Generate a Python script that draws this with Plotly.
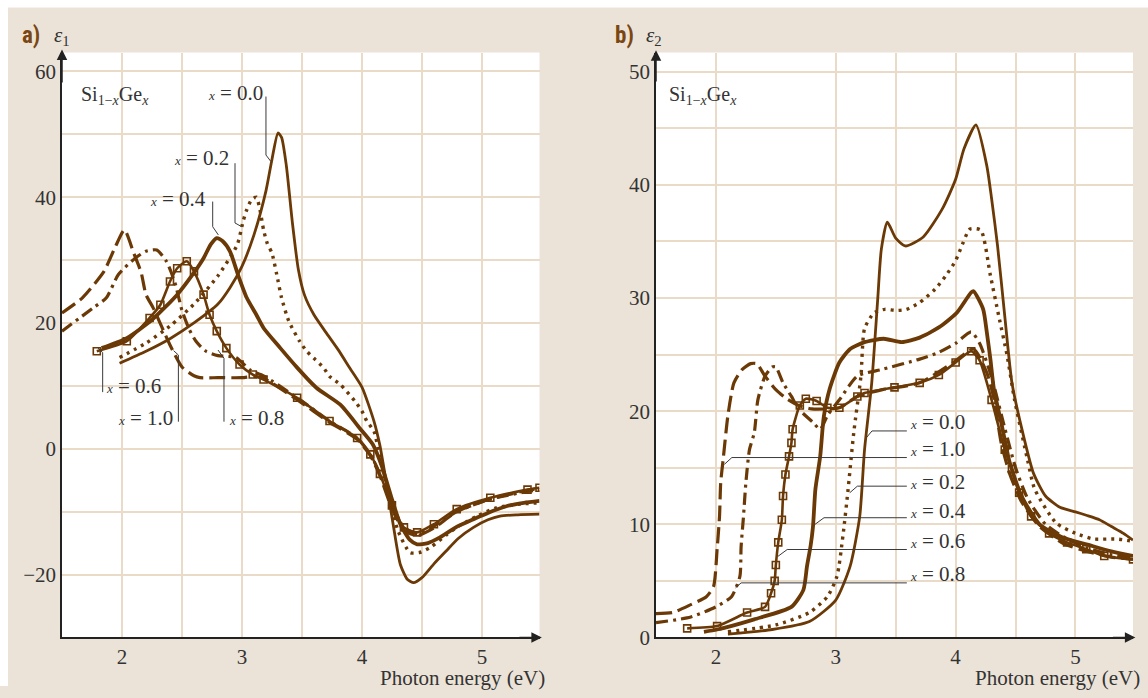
import plotly.graph_objects as go

W, H = 1148, 698
BROWN = "#6B3906"
LABEL_BROWN = "#7A4612"
GRID = "#EADBC8"
BG = "#ECE3D8"
AXIS = "#222222"
TXT = "#333333"
SERIF = "Liberation Serif, Times New Roman, serif"

# ---------------- Panel a: epsilon_1 ----------------
a_E_x00 = [1.98, 2.2, 2.4, 2.6, 2.8, 2.9, 3.0, 3.1, 3.2, 3.25, 3.3, 3.33, 3.37, 3.42, 3.47, 3.52, 3.6, 3.7, 3.8, 3.9, 4.0, 4.1, 4.15, 4.2, 4.26, 4.32, 4.38, 4.43, 4.5, 4.6, 4.7, 4.8, 4.93, 5.05, 5.15, 5.3, 5.48]
a_v_x00 = [13.6, 15.5, 17.5, 20.0, 23.0, 25.6, 29.0, 34.0, 41.0, 46.0, 50.2, 49.5, 45.0, 36.0, 28.5, 24.5, 21.3, 18.5, 15.8, 12.8, 9.8, 4.4, 0.5, -5.0, -12.0, -18.4, -20.8, -21.3, -20.5, -18.3, -16.3, -14.3, -12.5, -11.3, -10.7, -10.5, -10.4]

a_E_x02 = [1.98, 2.2, 2.4, 2.6, 2.8, 2.96, 3.01, 3.04, 3.08, 3.12, 3.15, 3.18, 3.21, 3.25, 3.29, 3.33, 3.39, 3.48, 3.54, 3.61, 3.68, 3.73, 3.82, 3.94, 4.0, 4.04, 4.1, 4.15, 4.22, 4.3, 4.4, 4.48, 4.57, 4.71, 4.79, 4.96, 5.12, 5.32, 5.48]
a_v_x02 = [14.5, 16.8, 19.5, 23.0, 27.5, 32.4, 36.2, 38.0, 39.6, 40.0, 38.0, 34.8, 32.7, 31.1, 27.7, 24.0, 20.3, 17.1, 15.5, 14.2, 12.9, 11.5, 10.2, 7.6, 6.0, 4.4, 2.8, -1.4, -7.0, -13.0, -16.5, -16.5, -15.7, -13.6, -12.5, -10.7, -9.4, -8.8, -8.6]

a_E_x04 = [1.83, 2.04, 2.25, 2.46, 2.6, 2.68, 2.74, 2.79, 2.84, 2.9, 2.97, 3.04, 3.12, 3.18, 3.32, 3.46, 3.62, 3.82, 3.98, 4.09, 4.17, 4.25, 4.32, 4.4, 4.46, 4.55, 4.65, 4.8, 4.93, 5.05, 5.21, 5.35, 5.48]
a_v_x04 = [16.0, 17.6, 20.5, 24.5, 28.0, 30.3, 32.5, 33.5, 33.0, 31.4, 27.5, 24.0, 21.3, 19.2, 16.0, 12.9, 9.7, 7.0, 3.3, 0.7, -3.0, -8.0, -12.0, -14.5, -15.2, -15.0, -14.1, -12.3, -11.2, -10.2, -9.1, -8.6, -8.3]

a_E_x06 = [1.79, 2.04, 2.23, 2.32, 2.40, 2.46, 2.54, 2.60, 2.68, 2.73, 2.79, 2.87, 2.98, 3.09, 3.18, 3.46, 3.73, 3.96, 4.07, 4.15, 4.25, 4.35, 4.46, 4.6, 4.79, 5.07, 5.38, 5.48]
a_v_x06 = [15.5, 17.1, 20.8, 22.9, 26.6, 28.7, 29.8, 28.2, 24.5, 21.3, 18.7, 16.0, 13.4, 11.8, 11.0, 8.1, 4.4, 1.7, -0.9, -4.0, -9.0, -12.5, -13.3, -12.0, -9.6, -7.8, -6.5, -6.2]

a_E_x08 = [1.5, 1.76, 1.87, 1.97, 2.11, 2.2, 2.29, 2.37, 2.44, 2.5, 2.56, 2.62, 2.7, 2.8, 2.95, 3.07, 3.18, 3.46, 3.73, 3.96, 4.07, 4.15, 4.25, 4.35, 4.46, 4.6, 4.79, 5.07, 5.38, 5.48]
a_v_x08 = [18.7, 22.4, 24.0, 27.7, 30.3, 31.4, 31.6, 29.8, 26.5, 22.0, 19.0, 17.0, 15.5, 14.8, 14.5, 12.5, 11.6, 8.1, 4.4, 1.7, -0.9, -4.0, -9.0, -12.5, -13.5, -12.3, -10.0, -8.0, -6.8, -6.5]

a_E_x10 = [1.5, 1.67, 1.85, 1.94, 2.02, 2.1, 2.16, 2.2, 2.26, 2.4, 2.5, 2.6, 2.65, 2.8, 3.0, 3.1, 3.18, 3.46, 3.73, 3.96, 4.07, 4.15, 4.25, 4.35, 4.46, 4.6, 4.79, 5.07, 5.38, 5.48]
a_v_x10 = [21.6, 24.0, 28.2, 31.9, 34.8, 31.0, 28.0, 24.5, 22.4, 16.5, 13.0, 11.6, 11.3, 11.3, 11.3, 11.5, 11.2, 7.8, 4.2, 1.5, -1.1, -4.3, -9.5, -13.0, -13.8, -12.6, -10.0, -8.0, -6.6, -6.3]

# ---------------- Panel b: epsilon_2 ----------------
b_E_x00 = [2.1, 2.47, 2.78, 3.0, 3.12, 3.2, 3.24, 3.3, 3.35, 3.38, 3.43, 3.5, 3.58, 3.73, 3.89, 4.0, 4.07, 4.17, 4.26, 4.3, 4.35, 4.41, 4.47, 4.56, 4.65, 4.75, 4.87, 5.0, 5.09, 5.2, 5.3, 5.4, 5.48]
b_v_x00 = [0.3, 0.7, 1.4, 3.3, 6.3, 10.7, 16.6, 22.5, 29.9, 34.3, 36.7, 35.3, 34.6, 35.4, 37.9, 40.5, 43.2, 45.3, 41.7, 38.8, 34.6, 28.4, 22.5, 18.1, 14.5, 12.5, 11.5, 11.1, 10.8, 10.4, 9.8, 9.2, 8.6]

b_E_x02 = [2.1, 2.5, 2.78, 2.93, 3.01, 3.06, 3.1, 3.15, 3.21, 3.24, 3.32, 3.41, 3.5, 3.59, 3.7, 3.83, 3.92, 4.0, 4.04, 4.12, 4.21, 4.29, 4.36, 4.43, 4.49, 4.6, 4.66, 4.84, 5.0, 5.15, 5.34, 5.48]
b_v_x02 = [0.5, 1.1, 2.2, 3.6, 5.4, 9.0, 12.8, 18.1, 23.1, 27.3, 28.7, 29.0, 28.9, 29.0, 29.6, 30.8, 32.0, 33.3, 34.3, 36.1, 36.0, 32.0, 28.4, 24.9, 21.1, 15.7, 13.1, 10.1, 9.2, 8.7, 8.7, 8.5]

b_E_x04 = [1.9, 2.01, 2.32, 2.63, 2.73, 2.76, 2.79, 2.81, 2.83, 2.87, 2.9, 2.95, 3.03, 3.12, 3.24, 3.40, 3.55, 3.70, 3.86, 4.01, 4.13, 4.15, 4.23, 4.26, 4.29, 4.32, 4.38, 4.45, 4.55, 4.7, 4.9, 5.1, 5.3, 5.48]
b_v_x04 = [0.5, 0.7, 1.6, 2.7, 4.2, 6.3, 8.1, 9.8, 13.1, 16.0, 19.5, 22.0, 24.3, 25.5, 26.1, 26.4, 26.1, 26.5, 27.4, 28.7, 30.5, 30.6, 29.0, 27.0, 24.6, 21.9, 19.0, 15.5, 12.5, 10.0, 8.8, 8.2, 7.6, 7.2]

b_E_x06 = [1.76, 2.01, 2.26, 2.41, 2.46, 2.49, 2.50, 2.52, 2.55, 2.56, 2.58, 2.61, 2.63, 2.64, 2.70, 2.75, 2.84, 2.93, 3.03, 3.18, 3.24, 3.49, 3.70, 3.86, 4.0, 4.13, 4.2, 4.3, 4.41, 4.47, 4.53, 4.63, 4.78, 4.93, 5.09, 5.24, 5.48]
b_v_x06 = [0.8, 1.0, 2.2, 2.7, 3.9, 5.0, 6.4, 8.4, 10.4, 12.5, 14.4, 16.0, 17.2, 18.4, 20.5, 21.1, 20.9, 20.3, 20.3, 21.3, 21.6, 22.1, 22.5, 23.2, 24.3, 25.3, 24.5, 21.0, 16.6, 14.9, 12.8, 10.7, 9.2, 8.4, 7.8, 7.2, 6.9]

b_E_x08 = [1.5, 1.79, 2.0, 2.13, 2.2, 2.21, 2.23, 2.25, 2.28, 2.32, 2.35, 2.41, 2.47, 2.5, 2.56, 2.63, 2.69, 2.81, 2.87, 2.93, 3.03, 3.18, 3.39, 3.70, 3.86, 4.0, 4.13, 4.2, 4.3, 4.41, 4.5, 4.6, 4.75, 4.93, 5.1, 5.3, 5.48]
b_v_x08 = [1.3, 1.8, 2.7, 3.6, 5.4, 8.0, 10.7, 13.7, 16.6, 18.1, 21.0, 23.1, 23.9, 23.9, 22.5, 21.3, 20.2, 19.0, 18.4, 19.6, 21.0, 23.1, 23.7, 24.6, 25.2, 26.0, 27.0, 26.0, 23.0, 18.5, 15.0, 12.3, 10.0, 8.7, 7.9, 7.3, 7.0]

b_E_x10 = [1.5, 1.64, 1.79, 1.92, 1.98, 2.01, 2.03, 2.04, 2.06, 2.10, 2.15, 2.22, 2.29, 2.34, 2.41, 2.50, 2.59, 2.69, 2.8, 2.93, 3.03, 3.18, 3.39, 3.70, 3.98, 4.15, 4.26, 4.32, 4.38, 4.45, 4.55, 4.7, 4.9, 5.1, 5.3, 5.48]
b_v_x10 = [2.1, 2.2, 2.9, 3.6, 4.5, 7.8, 10.7, 13.7, 15.7, 19.6, 22.5, 23.7, 24.2, 24.2, 23.1, 21.9, 21.1, 20.5, 20.2, 20.2, 20.3, 21.3, 21.9, 22.5, 24.3, 25.5, 23.4, 21.1, 17.2, 14.5, 12.0, 9.8, 8.3, 7.6, 7.1, 6.9]

x_ticks = [2, 3, 4, 5]
a_y_ticks = [-20, 0, 20, 40, 60]
b_y_ticks = [0, 10, 20, 30, 40, 50]

STYLES = {
    "x00": dict(mode="lines", line=dict(color=BROWN, width=2.8)),
    "x02": dict(mode="lines", line=dict(color=BROWN, width=3.4, dash="3px,5px")),
    "x04": dict(mode="lines", line=dict(color=BROWN, width=3.8)),
    "x06": dict(mode="lines+markers", line=dict(color=BROWN, width=2.6),
                marker=dict(symbol="square-open", size=7, color=BROWN, line=dict(width=1.6, color=BROWN))),
    "x08": dict(mode="lines", line=dict(color=BROWN, width=3.2, dash="12px,5px,3px,5px")),
    "x10": dict(mode="lines", line=dict(color=BROWN, width=3.2, dash="16px,6px")),
}

fig = go.Figure()

def add(E, v, key, xa, ya):
    st = STYLES[key]
    fig.add_trace(go.Scatter(x=E, y=v, xaxis=xa, yaxis=ya, showlegend=False,
                             hoverinfo="skip", line_shape="spline", **st))
    fig.data[-1].line.smoothing = 0.6

add(a_E_x10, a_v_x10, "x10", "x", "y")
add(a_E_x08, a_v_x08, "x08", "x", "y")
add(a_E_x06, a_v_x06, "x06", "x", "y")
add(a_E_x04, a_v_x04, "x04", "x", "y")
add(a_E_x02, a_v_x02, "x02", "x", "y")
add(a_E_x00, a_v_x00, "x00", "x", "y")

add(b_E_x10, b_v_x10, "x10", "x2", "y2")
add(b_E_x08, b_v_x08, "x08", "x2", "y2")
add(b_E_x06, b_v_x06, "x06", "x2", "y2")
add(b_E_x04, b_v_x04, "x04", "x2", "y2")
add(b_E_x02, b_v_x02, "x02", "x2", "y2")
add(b_E_x00, b_v_x00, "x00", "x2", "y2")

# pixel -> paper helpers (vertical slightly rescaled to land on the target pixels)
def px(x):
    return x / W

def py(y):
    return 1 - ((y - 1.56) / 0.9813) / H

tickfont = dict(family=SERIF, size=21, color=TXT)
common_x = dict(range=[1.5, 5.48], tickmode="array", tickvals=x_ticks, showgrid=True,
                gridcolor=GRID, gridwidth=1.5, showline=True, linecolor=AXIS, linewidth=1.5,
                ticks="", zeroline=False, tickfont=tickfont, fixedrange=True)
common_y = dict(showgrid=True, gridcolor=GRID, gridwidth=1.5, showline=True, linecolor=AXIS,
                linewidth=1.5, ticks="", zeroline=False, tickfont=tickfont, fixedrange=True)

ydom = [py(638), py(54)]
fig.update_layout(
    width=W, height=H, margin=dict(l=0, r=0, t=0, b=0),
    paper_bgcolor=BG, plot_bgcolor="white",
    xaxis=dict(domain=[px(62), px(539.5)], anchor="y",
               minor=dict(tickvals=[2.5, 3.5, 4.5], showgrid=True, gridcolor=GRID, gridwidth=1.5),
               **common_x),
    yaxis=dict(domain=ydom, anchor="x", range=[-30, 63], tickmode="array", tickvals=a_y_ticks,
               minor=dict(tickvals=[-10, 10, 30, 50], showgrid=True, gridcolor=GRID, gridwidth=1.5),
               **common_y),
    xaxis2=dict(domain=[px(656), px(1133)], anchor="y2",
                minor=dict(tickvals=[3.5, 4.5], showgrid=True, gridcolor=GRID, gridwidth=1.5),
                **common_x),
    yaxis2=dict(domain=ydom, anchor="x2", range=[0, 51.7], tickmode="array", tickvals=b_y_ticks,
                minor=dict(tickvals=[5, 15, 25, 35, 45], showgrid=True, gridcolor=GRID, gridwidth=1.5),
                **common_y),
)

# white margins around the beige panel background
fig.add_shape(type="rect", xref="paper", yref="paper", x0=0, x1=1, y0=py(9), y1=1,
              fillcolor="white", line_width=0, layer="below")
fig.add_shape(type="rect", xref="paper", yref="paper", x0=0, x1=px(8), y0=0, y1=1,
              fillcolor="white", line_width=0, layer="below")

# axis arrows
def arrow(xr, yr, x, y, ax, ay):
    fig.add_annotation(x=x, y=y, ax=ax, ay=ay, xref=xr, yref=yr, axref=xr, ayref=yr,
                       text="", showarrow=True, arrowhead=2, arrowsize=1.4, arrowwidth=1.5,
                       arrowcolor=AXIS, standoff=0)

arrow("x", "y", 1.5, 63.5, 1.5, 58)
arrow("x", "y", 5.5, -30, 5.3, -30)
arrow("x2", "y2", 1.5, 51.9, 1.5, 49)
arrow("x2", "y2", 5.5, 0, 5.3, 0)

def text(x, y, s, size=21, anchor="left", family=SERIF, color=TXT):
    fig.add_annotation(x=px(x), y=py(y), xref="paper", yref="paper", text=s, showarrow=False,
                       xanchor=anchor, yanchor="middle", font=dict(family=family, size=size, color=color))

COND = "Liberation Sans Narrow, Roboto Condensed, Liberation Sans, sans-serif"
text(20, 37, "<b>a)</b>", size=23, family=COND, color=LABEL_BROWN)
text(52, 38, "<i>ε</i><sub>1</sub>", size=21)
text(613, 37, "<b>b)</b>", size=23, family=COND, color=LABEL_BROWN)
text(644, 38, "<i>ε</i><sub>2</sub>", size=21)

si_ge = "Si<sub>1−<i>x</i></sub>Ge<sub><i>x</i></sub>"
text(79, 97, si_ge, size=20)
text(667, 97, si_ge, size=20)

text(547, 679, "Photon energy (eV)", size=21, anchor="right")
text(1142, 679, "Photon energy (eV)", size=21, anchor="right")

def lab(v):
    return "<span style='font-size:13px'><i>x</i></span> = " + v

# panel a labels (pixel positions of the text)
text(265, 94, lab("0.0"), anchor="right")
text(231, 159, lab("0.2"), anchor="right")
text(208, 200, lab("0.4"), anchor="right")
text(104, 387, lab("0.6"))
text(175, 419, lab("1.0"), anchor="right")
text(227, 419, lab("0.8"))

# panel b labels
for yy, v in [(423, "0.0"), (450, "1.0"), (483, "0.2"), (512, "0.4"), (542, "0.6"), (575, "0.8")]:
    text(908, yy, lab(v))

# pointer lines (in data coordinates)
def ptr(xr, yr, pts):
    path = "M " + " L ".join(f"{a},{b}" for a, b in pts)
    fig.add_shape(type="path", xref=xr, yref=yr, path=path, line=dict(color="#3a3a3a", width=1))

ptr("x", "y", [(3.20, 56.0), (3.20, 46.7), (3.24, 45.7)])
ptr("x", "y", [(2.942, 45.4), (2.942, 35.9), (2.998, 35.3)])
ptr("x", "y", [(2.756, 39.3), (2.756, 35.3), (2.803, 34.0)])
ptr("x", "y", [(1.80, 16.0), (1.839, 15.3), (1.839, 9.0)])
ptr("x", "y", [(2.43, 15.6), (2.47, 14.9), (2.47, 4.3)])
ptr("x", "y", [(2.80, 15.7), (2.85, 14.4), (2.85, 4.3)])

ptr("x2", "y2", [(3.593, 18.25), (3.302, 18.25), (3.256, 17.66)])
ptr("x2", "y2", [(3.593, 15.9), (2.133, 15.9), (2.071, 15.3)])
ptr("x2", "y2", [(3.593, 13.37), (3.18, 13.37), (3.117, 12.79)])
ptr("x2", "y2", [(3.593, 10.58), (2.902, 10.58), (2.825, 9.98)])
ptr("x2", "y2", [(3.593, 7.77), (2.595, 7.77), (2.518, 7.17)])
ptr("x2", "y2", [(3.593, 4.82), (2.21, 4.82), (2.164, 4.38)])

fig.write_html(
    "out.html",
    post_script="document.documentElement.style.background='%s';document.body.style.background='%s';" % (BG, BG),
)
